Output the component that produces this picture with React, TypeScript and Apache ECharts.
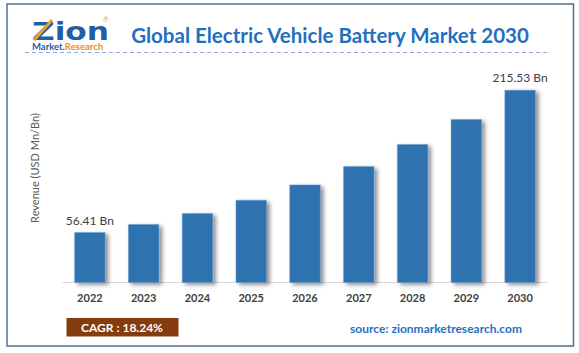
import React, { useEffect, useRef } from "react";
import * as echarts from "echarts";

const categories = ["2022", "2023", "2024", "2025", "2026", "2027", "2028", "2029", "2030"];
const revenue = [56.41, 65.3, 77.6, 92.5, 109.6, 130.2, 154.8, 182.8, 215.53];
const labelledIndexes = [0, 8];
const titleText = "Global Electric Vehicle Battery Market 2030";
const yAxisName = "Revenue (USD Mn/Bn)";
const cagrText = "CAGR : 18.24%";
const sourceText = "source: zionmarketresearch.com";

const FONT = "Lato, 'Open Sans', sans-serif";

export default function App() {
  const ref = useRef<HTMLDivElement>(null);
  useEffect(() => {
    if (!ref.current) return;
    const chart = echarts.init(ref.current, undefined, { renderer: "svg" });
    chart.setOption({
      animation: false,
      backgroundColor: "#ffffff",
      textStyle: { fontFamily: FONT },
      grid: { left: 63, right: 32, top: 68, bottom: 70.3, containLabel: false },
      xAxis: {
        type: "category",
        data: categories,
        axisLine: { lineStyle: { color: "#d9d9d9", width: 1 } },
        axisTick: { show: false },
        axisLabel: { color: "#404040", fontSize: 11, fontWeight: "bold", margin: 9, fontFamily: FONT },
      },
      yAxis: { type: "value", min: 0, max: 240, show: false, splitLine: { show: false } },
      series: [
        {
          type: "bar",
          barWidth: 31,
          data: revenue.map((v, i) => ({
            value: v,
            label: {
              show: labelledIndexes.includes(i),
              position: "top",
              distance: 6,
              formatter: (p: any) => `${p.value} Bn`,
              color: "#404040",
              fontSize: 12,
              fontFamily: FONT,
            },
          })),
          itemStyle: {
            color: "#2f72b0",
            borderColor: "#6f9fd0",
            borderWidth: 0.5,
            shadowColor: "rgba(0,0,0,0.45)",
            shadowBlur: 4,
            shadowOffsetX: 3,
            shadowOffsetY: 2,
          },
        },
      ],
      graphic: [
        {
          type: "rect",
          shape: { x: 7, y: 4, width: 566.5, height: 342 },
          style: { fill: "none", stroke: "#4f6f8f", lineWidth: 1.5 },
          silent: true,
        },
        {
          type: "line",
          shape: { x1: 25, y1: 52.5, x2: 548, y2: 52.5 },
          style: { stroke: "#8fa8d8", lineWidth: 1, lineDash: [4, 3] },
        },
        {
          type: "text",
          x: 330,
          y: 35,
          style: {
            text: titleText,
            fill: "#1f70c1",
            font: `bold 20.5px ${FONT}`,
            textAlign: "center",
            textVerticalAlign: "middle",
          },
        },
        {
          type: "text",
          x: 32,
          y: 32,
          scaleX: 1.25,
          style: {
            text: "Zion",
            fill: "#1f5ea8",
            font: "bold 25px 'DejaVu Sans', 'Liberation Sans', sans-serif",
            textAlign: "left",
            textVerticalAlign: "middle",
          },
        },
        {
          type: "line",
          shape: { x1: 34, y1: 40, x2: 52, y2: 20 },
          style: { stroke: "#f0a020", lineWidth: 3 },
        },
        {
          type: "text",
          x: 103,
          y: 19,
          style: { text: "®", fill: "#f0a020", font: `7px ${FONT}`, textAlign: "left", textVerticalAlign: "middle" },
        },
        {
          type: "text",
          x: 32,
          y: 46.5,
          style: {
            text: "{a|Market.}{b|Research}",
            font: `bold 9px ${FONT}`,
            textAlign: "left",
            textVerticalAlign: "middle",
            rich: {
              a: { fill: "#1f5ea8", font: `bold 9.5px ${FONT}` },
              b: { fill: "#e8901c", font: `bold 9.5px ${FONT}` },
            },
          },
        },
        {
          type: "text",
          x: 34,
          y: 168,
          rotation: Math.PI / 2,
          style: {
            text: yAxisName,
            fill: "#595959",
            font: `11px ${FONT}`,
            textAlign: "center",
            textVerticalAlign: "middle",
          },
        },
        {
          type: "rect",
          shape: { x: 66.5, y: 318, width: 112, height: 18.5 },
          style: { fill: "#843c0c" },
        },
        {
          type: "text",
          x: 122,
          y: 327.5,
          style: {
            text: cagrText,
            fill: "#ffffff",
            font: `bold 12px ${FONT}`,
            textAlign: "center",
            textVerticalAlign: "middle",
          },
        },
        {
          type: "text",
          x: 436,
          y: 328,
          style: {
            text: sourceText,
            fill: "#1f70c1",
            font: `bold 12px ${FONT}`,
            textAlign: "center",
            textVerticalAlign: "middle",
          },
        },
      ],
    });
    return () => chart.dispose();
  }, []);
  return (
    <div
      ref={ref}
      style={{ position: "fixed", left: 0, top: 0, width: 579, height: 353 }}
    />
  );
}
